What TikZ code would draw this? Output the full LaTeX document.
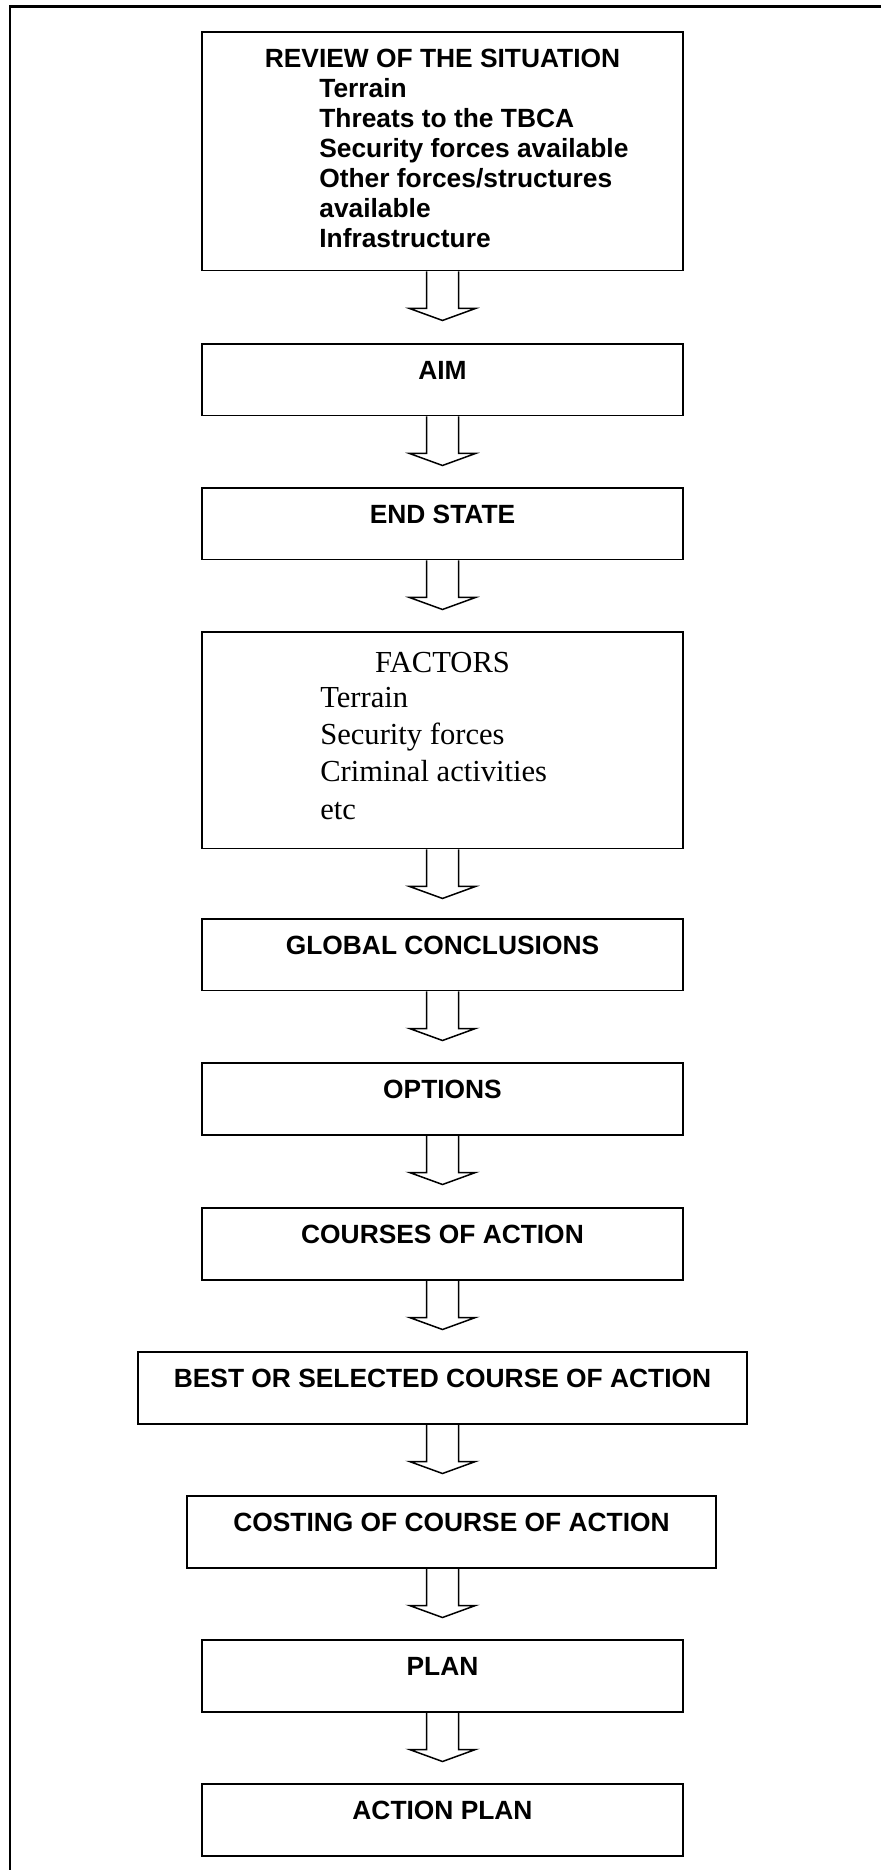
\documentclass[tikz,border=0pt]{standalone}
\usepackage{fontspec}
\setmainfont{Liberation Serif}
\newfontfamily\arialfont{Liberation Sans}
\newcommand{\stagefont}{\arialfont\bfseries\fontsize{15}{17.07}\selectfont}
\newcommand{\factorfont}{\rmfamily\fontsize{17.4}{21.2}\selectfont}
% hollow block arrow hanging below a stage
\newcommand{\flowarrow}[1]{%
  \draw[flow] (review.south |- #1.south) ++(-16,0) -- ++(0,37) -- ++(-17,0)
    -- ++(33,12) -- ++(33,-12) -- ++(-17,0) -- ++(0,-37);}

\begin{document}
\begin{tikzpicture}[
    x=0.02cm, y=-0.02cm,
    box/.style={rectangle, draw, line width=0.03cm, inner sep=0pt, anchor=north, minimum width=9.62cm},
    stage/.style={box, font=\stagefont, text height=0.72cm, text depth=0.72cm},
    flow/.style={draw, line width=0.03cm, line join=miter},
    frame/.style={line width=0.06cm}
]
\useasboundingbox (0,0) rectangle (881,1870);

% page frame
\draw[frame] (10,1870) -- (10,6) -- (881,6);

% Review of the situation
\node[box, minimum height=4.78cm] (review) at (442.5,31) {};
\node[font=\stagefont, anchor=base, inner sep=0pt] (reviewtitle) at (442.5,67) {REVIEW OF THE SITUATION};
\node[font=\stagefont, anchor=base west, align=left, inner sep=0pt] (reviewlist) at (319,247)
    {Terrain\\Threats to the TBCA\\Security forces available\\Other forces/structures\\available\\Infrastructure};

\node[stage] (aim) at (442.5,343) {AIM};
\node[stage] (endstate) at (442.5,487) {END STATE};

% Factors
\node[box, minimum height=4.34cm] (factors) at (442.5,631) {};
\node[font=\factorfont, anchor=base, inner sep=0pt] (factorstitle) at (442.5,672) {FACTORS};
\node[font=\factorfont, anchor=base west, align=left, inner sep=0pt] (factorslist) at (320,819)
    {Terrain\\Security forces\\Criminal activities\\etc};

\node[stage] (global) at (442.5,918) {GLOBAL CONCLUSIONS};
\node[stage] (options) at (442.5,1062) {OPTIONS};
\node[stage] (courses) at (442.5,1207) {COURSES OF ACTION};
\node[stage, minimum width=12.18cm] (best) at (442.5,1351) {BEST OR SELECTED COURSE OF ACTION};
\node[stage, minimum width=10.58cm] (costing) at (451.5,1495) {COSTING OF COURSE OF ACTION};
\node[stage] (plan) at (442.5,1639) {PLAN};
\node[stage] (actionplan) at (442.5,1783) {ACTION PLAN};

% arrows
\flowarrow{review}
\flowarrow{aim}
\flowarrow{endstate}
\flowarrow{factors}
\flowarrow{global}
\flowarrow{options}
\flowarrow{courses}
\flowarrow{best}
\flowarrow{costing}
\flowarrow{plan}

\end{tikzpicture}
\end{document}
